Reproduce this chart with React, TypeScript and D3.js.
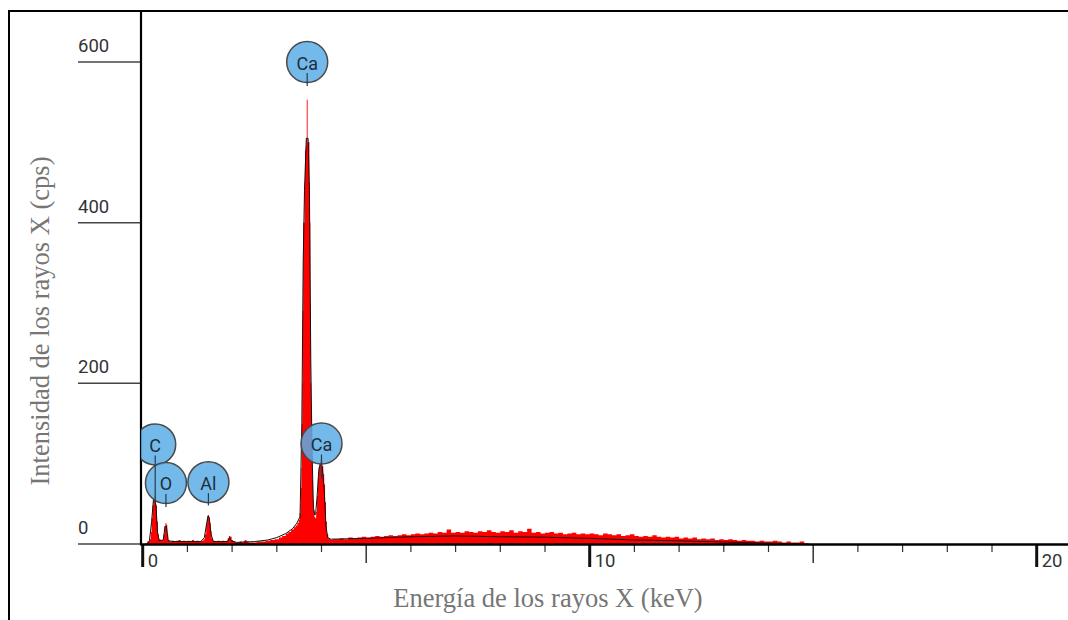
import React from 'react';
import * as d3 from 'd3';

// ---------- data ----------
const yTickValues = [0, 200, 400, 600];
const xTickLabels = [0, 10, 20];
const xMediumTicks = [5, 15];

// measured spectrum: [energy keV, counts per second]
const spectrumLow: [number, number][] = [
  [0.0, 0], [0.05, 1], [0.1, 3], [0.15, 6], [0.18, 15], [0.2, 32], [0.22, 48], [0.24, 58], [0.26, 62],
  [0.28, 60], [0.3, 48], [0.32, 28], [0.34, 12], [0.36, 6], [0.4, 4], [0.44, 5], [0.47, 12], [0.49, 22],
  [0.51, 26], [0.53, 24], [0.55, 12], [0.57, 5], [0.6, 3], [0.65, 4], [0.7, 3], [0.75, 4], [0.8, 5],
  [0.85, 3], [0.9, 4], [0.95, 3], [1.0, 4], [1.05, 3], [1.1, 5], [1.15, 3], [1.2, 4], [1.25, 3], [1.3, 4],
  [1.36, 6], [1.39, 12], [1.42, 24], [1.44, 32], [1.46, 36], [1.48, 34], [1.5, 26], [1.52, 16], [1.54, 7],
  [1.57, 4], [1.62, 3], [1.67, 4], [1.72, 3], [1.77, 4], [1.82, 3], [1.87, 4], [1.9, 7], [1.93, 10],
  [1.96, 9], [1.99, 5], [2.02, 3], [2.07, 2], [2.12, 2], [2.17, 3], [2.22, 2], [2.26, 4], [2.29, 5],
  [2.32, 3], [2.37, 2], [2.45, 2], [2.55, 3], [2.65, 3], [2.75, 4], [2.85, 5], [2.95, 6], [3.05, 8],
  [3.12, 10], [3.2, 13], [3.26, 15], [3.32, 18], [3.38, 21], [3.42, 23], [3.46, 26], [3.49, 30],
];

const spectrumCa: [number, number][] = [
  [3.51, 38], [3.53, 50], [3.54, 70], [3.55, 95], [3.56, 150], [3.57, 200], [3.58, 290], [3.59, 400],
  [3.6, 400], [3.61, 400], [3.62, 450], [3.63, 490], [3.64, 490], [3.65, 495], [3.66, 505], [3.67, 553],
  [3.68, 553], [3.69, 500], [3.7, 500], [3.71, 500], [3.72, 500], [3.73, 450], [3.74, 400], [3.75, 300],
  [3.76, 200], [3.77, 160], [3.78, 130], [3.79, 110], [3.8, 80], [3.81, 55], [3.82, 42], [3.84, 34],
  [3.86, 32], [3.88, 40], [3.9, 60], [3.92, 82], [3.94, 96], [3.96, 102], [3.98, 106], [4.0, 104],
  [4.02, 97], [4.04, 87], [4.06, 74], [4.08, 52], [4.1, 28], [4.12, 12], [4.15, 7], [4.2, 5], [4.25, 6],
];

const continuumStart = 4.3;
const continuumStep = 0.1;
const continuumCps = [
  6, 7, 6, 8, 7, 8, 9, 8, 9, 10, 9, 10, 11, 10, 11, 12, 11, 12, 13, 12, 13, 14, 13, 15, 14, 18, 14, 15,
  14, 16, 15, 14, 16, 15, 17, 15, 14, 16, 15, 17, 14, 16, 15, 19, 14, 15, 13, 14, 15, 13, 14, 12, 13, 14,
  12, 13, 12, 13, 12, 11, 13, 12, 11, 12, 10, 11, 12, 10, 9, 10, 9, 11, 9, 8, 9, 8, 9, 7, 8, 7, 8, 6, 7,
  6, 7, 5, 6, 5, 6, 5, 4, 5, 4, 4, 3, 4, 3, 3, 4, 3, 2, 3, 2, 2, 3, 1, 0,
];

// fitted curve (black line)
const fitCurve: [number, number][] = [
  [0.1, 0], [0.15, 4], [0.2, 28], [0.24, 55], [0.27, 58], [0.3, 45], [0.33, 15], [0.37, 4], [0.46, 5],
  [0.5, 22], [0.53, 22], [0.57, 4], [0.7, 3], [1.3, 3], [1.38, 8], [1.42, 22], [1.46, 35], [1.49, 32],
  [1.53, 12], [1.58, 3], [1.9, 3], [1.94, 8], [1.98, 4], [2.1, 2], [2.5, 3], [2.8, 5], [3.0, 8], [3.2, 13],
  [3.35, 19], [3.45, 26], [3.52, 34], [3.56, 150], [3.59, 350], [3.62, 440], [3.66, 505], [3.7, 505],
  [3.73, 440], [3.76, 230], [3.79, 110], [3.82, 45], [3.85, 36], [3.87, 38], [3.9, 58], [3.94, 92],
  [3.98, 102], [4.02, 94], [4.06, 68], [4.1, 22], [4.14, 8], [4.2, 6], [5, 7], [6, 9], [7, 10], [8, 9],
  [9, 8.5], [10, 7], [10.5, 6], [11, 5], [12, 4], [13, 2.5], [14, 1], [14.8, 0],
];

// element markers: label, energy, label centre (cps), leader end (cps)
const markerNames = ['C', 'O', 'Al', 'Ca', 'Ca'];
const markerEnergy = [0.28, 0.52, 1.47, 3.68, 4.0];
const markerCenterCps = [124, 76, 77, 600, 125];
const markerLeaderEndCps = [51, 46, 48, 570, 82];

// ---------- layout ----------
const W = 1068;
const H = 620;
const plotLeft = 141;
const x = d3.scaleLinear().domain([0, 20]).range([142.7, 1036.7]);
const y = d3.scaleLinear().domain([0, 600]).range([544, 62]);

export default function App() {
  const continuum: [number, number][] = continuumCps.map((v, i) => [continuumStart + i * continuumStep, v]);
  const spectrum = [...spectrumLow, ...spectrumCa, ...continuum];

  const area = d3
    .area<[number, number]>()
    .x((d) => x(d[0]))
    .y0(y(0))
    .y1((d) => y(d[1]))
    .curve(d3.curveStepAfter);
  const fitLine = d3
    .line<[number, number]>()
    .x((d) => x(d[0]))
    .y((d) => y(d[1]))
    .curve(d3.curveLinear);

  const minorTicks = x.ticks(20).filter((t) => !xTickLabels.includes(t) && !xMediumTicks.includes(t));
  const tickFont = 'Roboto, "Open Sans", sans-serif';
  const serif = '"Liberation Serif", "Times New Roman", serif';
  const R = 20.5;

  return (
    <svg width={W} height={H} style={{ position: 'absolute', left: 0, top: 0, background: '#fff' }}>
      <defs>
        <clipPath id="plot">
          <rect x={plotLeft} y={0} width={W - plotLeft} height={545} />
        </clipPath>
      </defs>
      <rect x={0} y={0} width={W} height={H} fill="#fff" />
      {/* outer frame */}
      <rect x={9} y={11} width={1200} height={800} fill="none" stroke="#000" strokeWidth={2} />

      {/* y tick lines + labels */}
      {yTickValues.map((v) => (
        <g key={'y' + v}>
          <line x1={78} x2={plotLeft} y1={y(v)} y2={y(v)} stroke="#444" strokeWidth={1.5} />
          <text x={78} y={y(v) - 10} fontFamily={tickFont} fontSize={18.5} fill="#333">
            {v}
          </text>
        </g>
      ))}

      {/* spectrum */}
      <g clipPath="url(#plot)">
        <path d={area(spectrum) || ''} fill="#ff0000" stroke="none" />
        <path d={fitLine(fitCurve) || ''} fill="none" stroke="#111" strokeWidth={1} />
      </g>

      {/* x ticks */}
      {minorTicks.map((t) => (
        <line key={'m' + t} x1={x(t)} x2={x(t)} y1={544} y2={552} stroke="#333" strokeWidth={1.2} />
      ))}
      {xMediumTicks.map((t) => (
        <line key={'md' + t} x1={x(t)} x2={x(t)} y1={544} y2={563} stroke="#333" strokeWidth={1.5} />
      ))}
      {xTickLabels.map((t) => (
        <g key={'M' + t}>
          <line x1={x(t)} x2={x(t)} y1={544} y2={567} stroke="#111" strokeWidth={3} />
          <text x={x(t) + 5} y={566.5} fontFamily={tickFont} fontSize={18.5} fill="#333">
            {t}
          </text>
        </g>
      ))}

      {/* axes */}
      <line x1={plotLeft} x2={plotLeft} y1={11} y2={545.5} stroke="#000" strokeWidth={2.2} />
      <line x1={plotLeft} x2={W} y1={544.5} y2={544.5} stroke="#000" strokeWidth={2.5} />

      {/* markers */}
      <g clipPath="url(#plot)">
        {markerNames.map((n, i) => (
          <circle
            key={'c' + i}
            cx={x(markerEnergy[i])}
            cy={y(markerCenterCps[i])}
            r={R}
            fill="#5aaee8"
            fillOpacity={0.85}
            stroke="#4a4a4a"
            strokeWidth={1.5}
          />
        ))}
        {markerNames.map((n, i) => (
          <line
            key={'l' + i}
            x1={x(markerEnergy[i])}
            x2={x(markerEnergy[i])}
            y1={y(markerCenterCps[i]) + 11}
            y2={y(markerLeaderEndCps[i])}
            stroke="#2a3a4a"
            strokeWidth={1.2}
          />
        ))}
        {markerNames.map((n, i) => (
          <text
            key={'t' + i}
            x={x(markerEnergy[i])}
            y={y(markerCenterCps[i]) + 1}
            textAnchor="middle"
            dominantBaseline="central"
            fontFamily={tickFont}
            fontSize={18}
            fill="#1f2d3d"
          >
            {n}
          </text>
        ))}
      </g>

      {/* axis titles */}
      <text x={548} y={607} textAnchor="middle" fontFamily={serif} fontSize={26.5} fill="#767676">
        Energía de los rayos X (keV)
      </text>
      <text
        transform="translate(49,321) rotate(-90)"
        textAnchor="middle"
        fontFamily={serif}
        fontSize={26.5}
        fill="#767676"
      >
        Intensidad de los rayos X (cps)
      </text>
    </svg>
  );
}
